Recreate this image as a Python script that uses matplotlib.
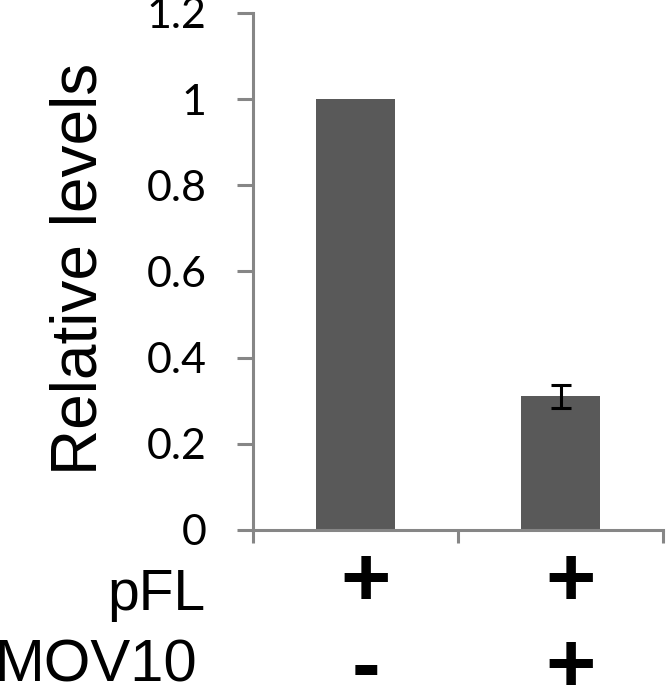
import numpy as np
import matplotlib.pyplot as plt
import matplotlib.transforms as mtransforms

# data
conditions = ["pFL only", "pFL + MOV10"]
levels = [1.0, 0.31]
errors = [0.0, 0.027]
row_names = ["pFL", "MOV10"]
row_signs = [["+", "+"], ["-", "+"]]
y_ticks = [0, 0.2, 0.4, 0.6, 0.8, 1, 1.2]
y_tick_labels = ["0", "0.2", "0.4", "0.6", "0.8", "1", "1.2"]

fig = plt.figure(figsize=(6.66, 6.89), dpi=100)
ax = fig.add_axes([0.3799, 0.2308, 0.6156, 0.7504])

x = np.arange(len(conditions))
ax.bar(x, levels, width=0.39, color="#595959", zorder=2)
ax.errorbar(x[1:], levels[1:], yerr=errors[1:], fmt="none", ecolor="black",
            elinewidth=2.2, capsize=7.5, capthick=2.2, zorder=3)

ax.set_xlim(-0.5, 1.5)
ax.set_ylim(0, 1.2)
ax.set_yticks(y_ticks)
ax.set_yticklabels(y_tick_labels, fontfamily="Lato", fontsize=31)
ax.set_xticks([-0.5, 0.5, 1.5])
ax.set_xticklabels([])

for s in ["top", "right"]:
    ax.spines[s].set_visible(False)
for s in ["left", "bottom"]:
    ax.spines[s].set_color("#868686")
    ax.spines[s].set_linewidth(2.2)

ax.tick_params(axis="y", direction="out", length=11.5, width=2.2, color="#868686", pad=22)
ax.tick_params(axis="x", direction="out", length=9.5, width=2.2, color="#868686")

ax.set_ylabel("Relative levels", fontfamily="Liberation Sans", fontsize=46)
ax.yaxis.set_label_coords(-0.35, 0.505)

# condition table under the axis
trans = mtransforms.blended_transform_factory(ax.transData, fig.transFigure)
fig.text(0.308, 0.1147, row_names[0], fontfamily="Liberation Sans", fontsize=41,
         ha="right", va="baseline")
fig.text(0.296, 0.0102, row_names[1], fontfamily="Liberation Sans", fontsize=43,
         ha="right", va="baseline")
row_y = [0.152, 0.028]
for r, signs in enumerate(row_signs):
    for i, s in enumerate(signs):
        ax.text(x[i] + 0.05, row_y[r], s, transform=trans, fontfamily="Liberation Sans",
                fontweight="bold", fontsize=62, ha="center", va="center", clip_on=False)

plt.savefig("out.png", dpi=100, facecolor="w")
